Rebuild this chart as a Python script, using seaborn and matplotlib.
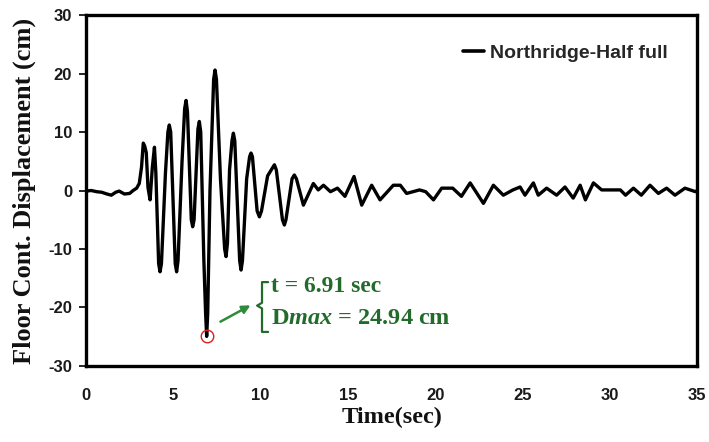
import matplotlib
matplotlib.use("Agg")
import matplotlib.pyplot as plt
import numpy as np
import pandas as pd
import seaborn as sns

# Floor displacement time history (Northridge record, half-full tank)
time_s = [0.0, 0.3, 0.6, 0.9, 1.2, 1.45, 1.7, 1.9, 2.2, 2.5, 2.7, 2.9, 3.05,
          3.18, 3.28, 3.36, 3.45, 3.55, 3.67, 3.8, 3.92, 4.0,
          4.16, 4.24, 4.32, 4.55, 4.69, 4.77, 4.85,
          5.11, 5.19, 5.27, 5.5, 5.65, 5.73, 5.81,
          6.03, 6.11, 6.19, 6.41, 6.49, 6.57, 6.75, 6.85, 6.91, 6.97,
          7.1, 7.31, 7.39, 7.47, 7.7, 7.94, 8.02, 8.1, 8.22, 8.36, 8.44, 8.52,
          8.8, 8.88, 8.96, 9.2, 9.37, 9.45, 9.53, 9.8, 9.93, 10.05,
          10.4, 10.79, 10.9, 11.25, 11.36, 11.45, 11.8, 11.93, 12.05, 12.45,
          13.02, 13.3, 13.6, 14.0, 14.4, 14.83,
          15.35, 15.79, 16.36, 16.84, 17.6, 18.0, 18.36, 19.1, 19.45, 19.9, 20.37, 21.0,
          21.5, 22.0, 22.76, 23.33, 23.9, 24.45, 24.86, 25.14, 25.62, 25.9, 26.38, 26.95,
          27.43, 27.9, 28.3, 28.6, 29.06, 29.53, 30.6, 30.9, 31.35, 31.8, 32.3, 32.78,
          33.25, 33.73, 34.3, 34.9, 35.0]
displacement_cm = [-0.1, 0.0, -0.2, -0.3, -0.6, -0.8, -0.3, -0.1, -0.6, -0.5, 0.0, 0.4, 1.2,
                   4.0, 8.1, 7.6, 6.5, 0.5, -1.6, 4.0, 7.4, 3.0,
                   -12.5, -13.9, -12.5, 3.0, 10.0, 11.2, 10.0,
                   -12.5, -13.9, -12.0, 5.0, 14.0, 15.4, 13.5,
                   -5.0, -6.2, -5.0, 10.5, 11.8, 10.0, -12.0, -21.0, -24.94, -21.0,
                   0.0, 19.0, 20.6, 19.0, 2.0, -10.0, -11.3, -9.0, 3.5, 8.5, 9.8, 8.5,
                   -12.0, -13.6, -12.0, 2.0, 5.8, 6.4, 5.8, -3.5, -4.5, -3.5,
                   2.5, 4.4, 3.5, -5.0, -5.9, -5.0, 2.0, 2.65, 2.0, -2.5,
                   1.2, 0.1, 0.9, -0.2, 0.4, -1.0,
                   2.4, -2.5, 0.9, -1.6, 0.9, 0.9, -0.5, 0.1, -0.2, -1.6, 0.4, 0.4,
                   -1.0, 1.3, -2.2, 0.9, -0.8, 0.1, 0.6, -0.8, 1.3, -0.8, 0.4, -0.8,
                   0.6, -1.3, 0.9, -1.6, 1.3, 0.1, 0.1, -0.8, 0.4, -0.8, 0.9, -0.5,
                   0.4, -0.8, 0.4, -0.2, 0.0]
series_name = "Northridge-Half full"

peak_time = 6.91
peak_disp = -24.94

x_ticks = [0, 5, 10, 15, 20, 25, 30, 35]
y_ticks = [-30, -20, -10, 0, 10, 20, 30]

df = pd.DataFrame({"Time": time_s, "Disp": displacement_cm, "Record": series_name})

sns.set_theme(style="white")
plt.rcParams["font.family"] = ["Liberation Sans", "DejaVu Sans"]
plt.rcParams["mathtext.fontset"] = "custom"
plt.rcParams["mathtext.rm"] = "Liberation Serif:bold"
plt.rcParams["mathtext.bf"] = "Liberation Serif:bold"
plt.rcParams["mathtext.it"] = "Liberation Serif:italic:bold"

fig = plt.figure(figsize=(7.09, 4.42), dpi=100)
ax = fig.add_axes([0.1213, 0.172, 0.862, 0.794])

sns.lineplot(data=df, x="Time", y="Disp", hue="Record", palette=["black"],
             linewidth=2.4, ax=ax, sort=False)

ax.set_xlim(0, 35)
ax.set_ylim(-30, 30)
ax.set_xticks(x_ticks)
ax.set_yticks(y_ticks)
ax.set_xticklabels([str(v) for v in x_ticks], fontsize=12, fontweight="bold",
                   color="#1a1a1a")
ax.set_yticklabels([str(v) for v in y_ticks], fontsize=12, fontweight="bold",
                   color="#1a1a1a")
ax.tick_params(axis="x", length=0, pad=16)
ax.tick_params(axis="y", direction="out", length=5, width=1.2, color="black",
               left=True, pad=5)

for sp in ax.spines.values():
    sp.set_color("black")
    sp.set_linewidth(2.4)

ax.set_xlabel("Time(sec)", fontsize=17.5, fontweight="bold",
              family="Liberation Serif", color="#111111", labelpad=3)
ax.set_ylabel("Floor Cont. Displacement (cm)", fontsize=19, fontweight="bold",
              family="Liberation Serif", color="#111111", labelpad=9)

leg = ax.legend(loc="center right", frameon=False, handlelength=1.1,
                handletextpad=0.3, prop={"weight": "bold", "size": 14},
                bbox_to_anchor=(0.965, 0.892), borderaxespad=0)
for line in leg.get_lines():
    line.set_linewidth(2.6)

# Peak marker and its callout
green = "#236b2b"
ax.plot([peak_time], [peak_disp], marker="o", markersize=9, markerfacecolor="none",
        markeredgecolor="#d62020", markeredgewidth=1.0, linestyle="none")
ax.annotate("", xy=(9.56, -19.4), xytext=(7.56, -22.65),
            arrowprops=dict(arrowstyle="-|>", color="#2e8b3a", lw=1.8,
                            mutation_scale=12))

# curly bracket grouping the two lines of the callout
bx = [0.298, 0.288, 0.288, 0.280, 0.288, 0.288, 0.298]
by = [0.239, 0.239, 0.180, 0.172, 0.164, 0.097, 0.097]
ax.plot(bx, by, color=green, lw=1.6, transform=ax.transAxes, clip_on=False)

ax.text(0.303, 0.226, f"t = {peak_time:.2f} sec", transform=ax.transAxes,
        fontsize=17, fontweight="bold", family="Liberation Serif", color=green,
        va="center", ha="left")
ax.text(0.303, 0.136, r"$\mathrm{D}\mathit{max}$" + f" = {abs(peak_disp):.2f} cm",
        transform=ax.transAxes, fontsize=17.5, fontweight="bold",
        family="Liberation Serif", color=green, va="center", ha="left")

fig.savefig("out.png", dpi=100)
